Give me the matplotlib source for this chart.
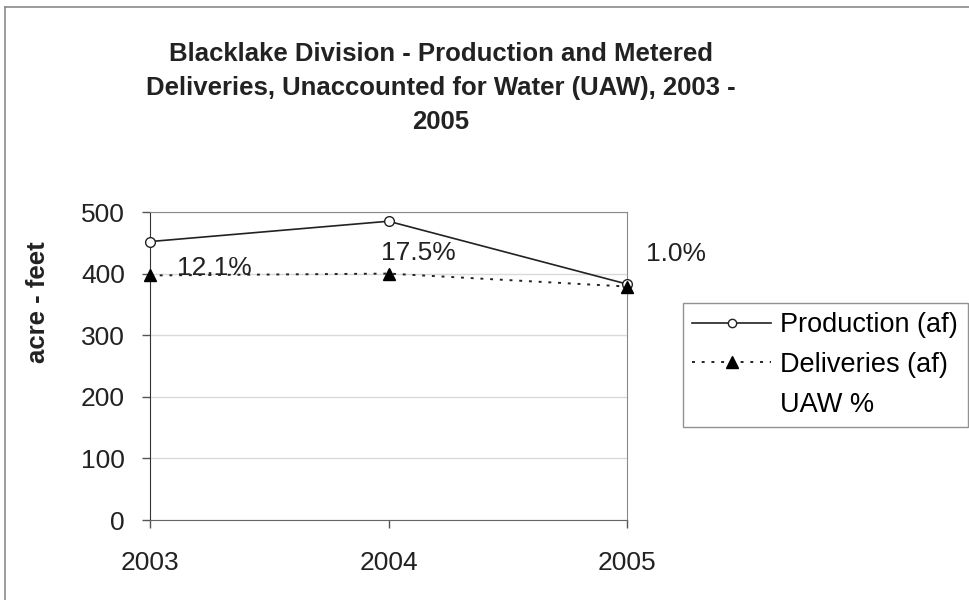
import matplotlib.pyplot as plt
from matplotlib.lines import Line2D

plt.rcParams['font.family'] = ['Liberation Sans', 'DejaVu Sans']

years = ['2003', '2004', '2005']
production = [452, 485, 383]
deliveries = [397, 400, 379]
uaw_pct = [12.1, 17.5, 1.0]

# pixel offsets of the UAW labels from the delivery points
label_dx = [64, 30, 49]
label_dy = [7, 21, 33]

fig = plt.figure(figsize=(9.69, 6.0), dpi=100)
W, H = 969, 600

# chart frame (only top and left edge fall inside the image)
fig.add_artist(Line2D([5 / W, 1.0], [1 - 7 / H, 1 - 7 / H], transform=fig.transFigure,
                      color='#8a8a8a', lw=1.2))
fig.add_artist(Line2D([5 / W, 5 / W], [0.0, 1 - 7 / H], transform=fig.transFigure,
                      color='#8a8a8a', lw=1.2))

ax = fig.add_axes([150 / W, 1 - 520 / H, (627 - 150) / W, (520 - 212) / H])
x = list(range(len(years)))

ax.plot(x, production, color='#222222', lw=1.2, marker='o', ms=7,
        mfc='white', mec='#222222', mew=1.0, label='Production (af)', zorder=3,
        clip_on=False)
ax.plot(x, deliveries, color='#222222', lw=1.4, ls=(0, (1.5, 3.5)), marker='^', ms=9,
        mfc='black', mec='black', label='Deliveries (af)', zorder=3, clip_on=False)

for i, v in enumerate(uaw_pct):
    ax.annotate('%.1f%%' % v, (x[i], deliveries[i]), xytext=(label_dx[i], label_dy[i]),
                textcoords='offset pixels', ha='center', va='center',
                fontsize=19, color='#222222', annotation_clip=False)

ax.set_xlim(0, 2)
ax.set_ylim(0, 500)
ax.set_yticks([0, 100, 200, 300, 400, 500])
ax.set_xticks(x)
ax.set_xticklabels(years)
ax.grid(axis='y', color='#dadada', lw=1.0)
ax.set_axisbelow(True)

for side in ['top', 'right']:
    ax.spines[side].set_color('#8a8a8a')
ax.spines['left'].set_color('#333333')
ax.spines['bottom'].set_color('#666666')
ax.tick_params(axis='both', direction='out', length=6, width=1.0, color='#555555',
               labelsize=19, labelcolor='#222222')
ax.tick_params(axis='y', pad=12)
ax.tick_params(axis='x', pad=16)

fig.text(38 / W, 1 - 302 / H, 'acre - feet', rotation=90, ha='center', va='center',
         fontsize=18.5, fontweight='bold', color='#222222')

fig.text(441 / W, 1 - 88 / H,
         'Blacklake Division - Production and Metered\n'
         'Deliveries, Unaccounted for Water (UAW), 2003 -\n2005',
         ha='center', va='center', fontsize=18.5, fontweight='bold',
         color='#222222', linespacing=1.55)

handles = [
    Line2D([], [], color='#222222', lw=1.2, marker='o', ms=6, mfc='white', mec='#222222'),
    Line2D([], [], color='#222222', lw=1.4, ls=(0, (1.5, 3.5)), marker='^', ms=8,
           mfc='black', mec='black'),
    Line2D([], [], ls='none', marker='none'),
]
leg = fig.legend(handles, ['Production (af)', 'Deliveries (af)', 'UAW %'],
                 loc='lower left', bbox_to_anchor=(683 / W, 1 - 427 / H),
                 fontsize=19.5, frameon=True, fancybox=False, handlelength=2.9,
                 handletextpad=0.35, labelspacing=0.5, borderpad=0.35,
                 borderaxespad=0)
leg.get_frame().set_edgecolor('#777777')
leg.get_frame().set_linewidth(1.0)

fig.savefig('out.png', dpi=100)
